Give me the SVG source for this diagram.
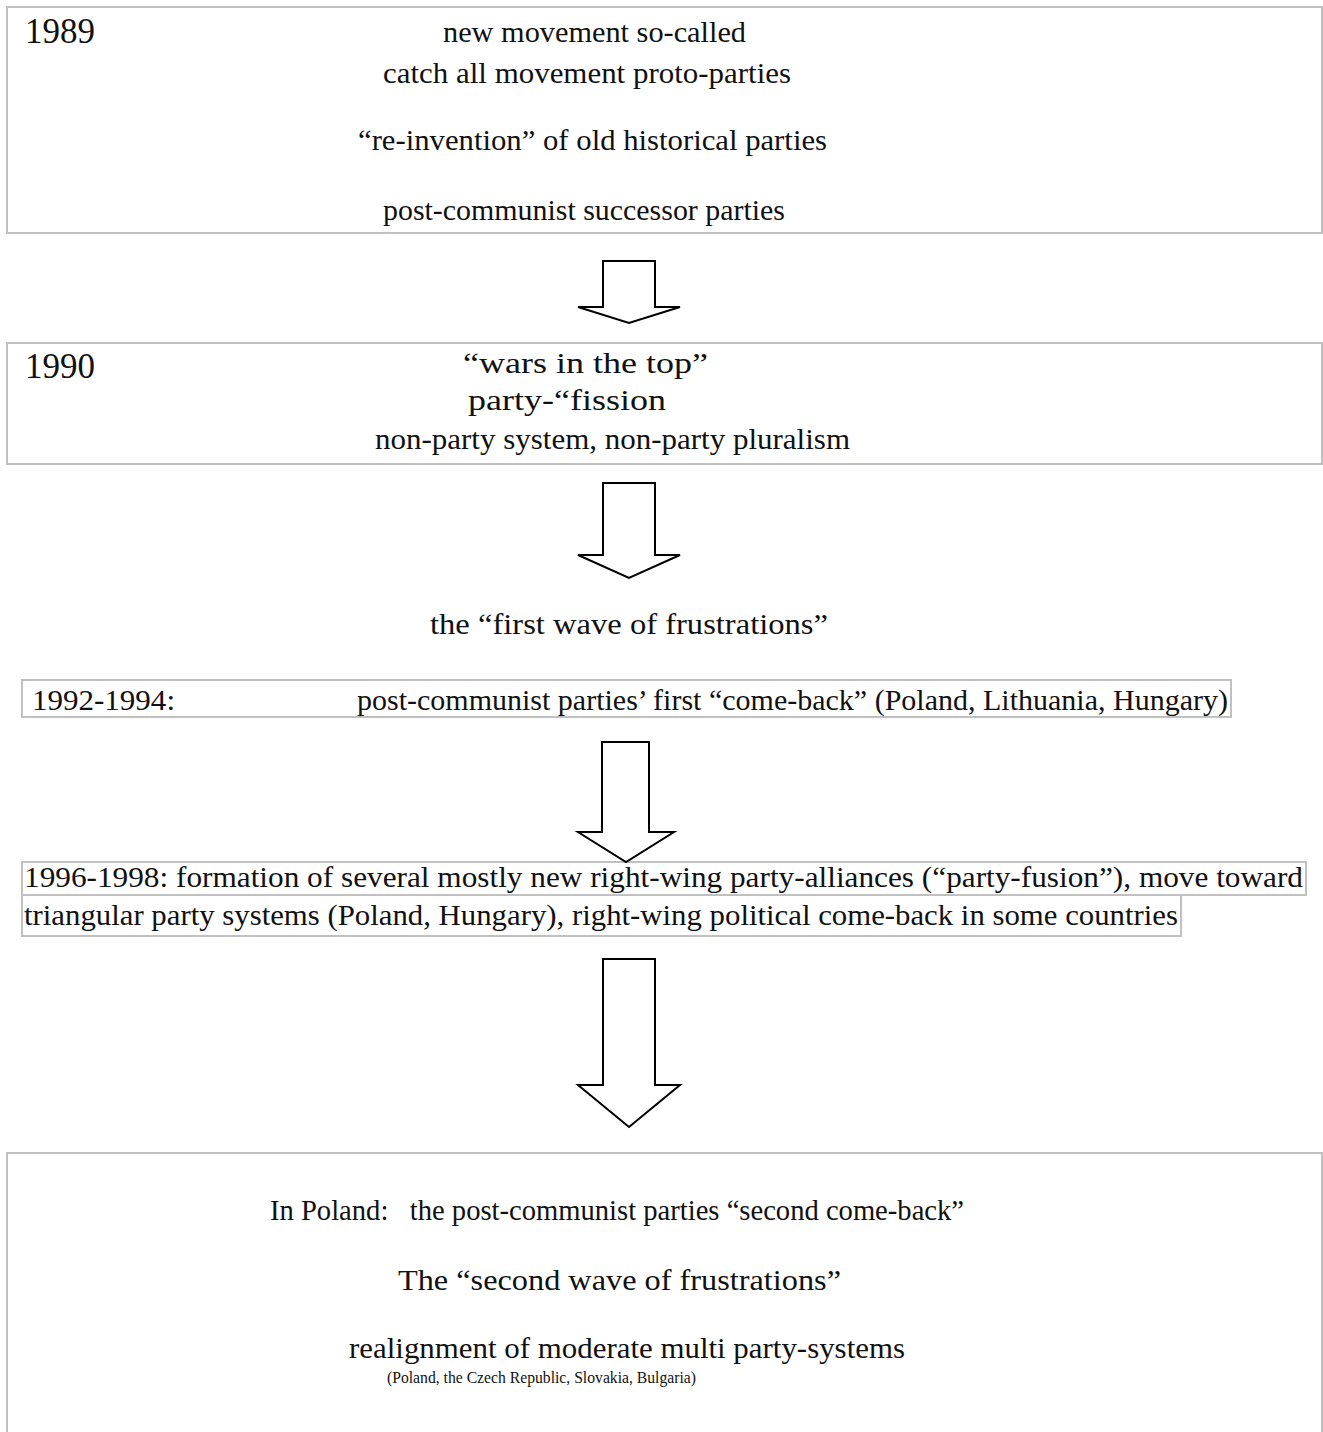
<svg xmlns="http://www.w3.org/2000/svg" width="1323" height="1432" viewBox="0 0 1323 1432">
<style>
.box{fill:#fff;stroke:#c0c0c0;stroke-width:2}
.t{font-family:"Liberation Serif","Times New Roman",serif;font-size:29px;fill:#111}
.y{font-family:"Liberation Serif","Times New Roman",serif;font-size:35px;fill:#111}
.s{font-family:"Liberation Serif","Times New Roman",serif;font-size:17px;fill:#111}
.arr{fill:#fff;stroke:#000;stroke-width:2;stroke-linejoin:miter}
</style>
<rect width="1323" height="1432" fill="#fff"/>
<g id="node-1989">
<rect class="box" x="7" y="7" width="1315" height="226"/>
<text class="y" x="25" y="43">1989</text>
<text class="t" x="443" y="42" textLength="303" lengthAdjust="spacingAndGlyphs">new movement so-called</text>
<text class="t" x="383" y="83" textLength="408" lengthAdjust="spacingAndGlyphs">catch all movement proto-parties</text>
<text class="t" x="358" y="150" textLength="469" lengthAdjust="spacingAndGlyphs">“re-invention” of old historical parties</text>
<text class="t" x="383" y="220" textLength="402" lengthAdjust="spacingAndGlyphs">post-communist successor parties</text>
</g>
<g id="node-1990">
<rect class="box" x="7" y="343" width="1315" height="121"/>
<text class="y" x="25" y="378">1990</text>
<text class="t" x="463" y="373" textLength="245" lengthAdjust="spacingAndGlyphs">“wars in the top”</text>
<text class="t" x="468" y="410" textLength="198" lengthAdjust="spacingAndGlyphs">party-“fission</text>
<text class="t" x="375" y="449" textLength="475" lengthAdjust="spacingAndGlyphs">non-party system, non-party pluralism</text>
</g>
<g id="node-first-wave">
<text class="t" x="430" y="634" textLength="398" lengthAdjust="spacingAndGlyphs">the “first wave of frustrations”</text>
</g>
<g id="node-1992">
<rect class="box" x="22" y="680" width="1209" height="37"/>
<text class="t" x="32" y="710" textLength="143" lengthAdjust="spacingAndGlyphs">1992-1994:</text>
<text class="t" x="357" y="710" textLength="871" lengthAdjust="spacingAndGlyphs">post-communist parties’ first “come-back” (Poland, Lithuania, Hungary)</text>
</g>
<g id="node-1996">
<rect class="box" x="22" y="862" width="1284" height="33"/>
<rect class="box" x="22" y="895" width="1159" height="41"/>
<text class="t" x="24" y="887" textLength="1279" lengthAdjust="spacingAndGlyphs">1996-1998: formation of several mostly new right-wing party-alliances (“party-fusion”), move toward</text>
<text class="t" x="24" y="925" textLength="1154" lengthAdjust="spacingAndGlyphs">triangular party systems (Poland, Hungary), right-wing political come-back in some countries</text>
</g>
<g id="node-poland">
<rect class="box" x="7" y="1153" width="1315" height="290"/>
<text class="t" x="270" y="1220" textLength="694" lengthAdjust="spacingAndGlyphs" xml:space="preserve">In Poland:   the post-communist parties “second come-back”</text>
<text class="t" x="398" y="1290" textLength="443" lengthAdjust="spacingAndGlyphs">The “second wave of frustrations”</text>
<text class="t" x="349" y="1358" textLength="556" lengthAdjust="spacingAndGlyphs">realignment of moderate multi party-systems</text>
<text class="s" x="387" y="1383" textLength="309" lengthAdjust="spacingAndGlyphs">(Poland, the Czech Republic, Slovakia, Bulgaria)</text>
</g>
<g id="connectors">
<polygon class="arr" points="603,261 655,261 655,307 680,307 629,323 578,307 603,307"/>
<polygon class="arr" points="603,483 655,483 655,555 680,555 629,578 578,555 603,555"/>
<polygon class="arr" points="602,742 649,742 649,832 674,832 626,862 578,832 602,832"/>
<polygon class="arr" points="603,959 655,959 655,1085 680,1085 629,1127 578,1085 603,1085"/>
</g>
</svg>
